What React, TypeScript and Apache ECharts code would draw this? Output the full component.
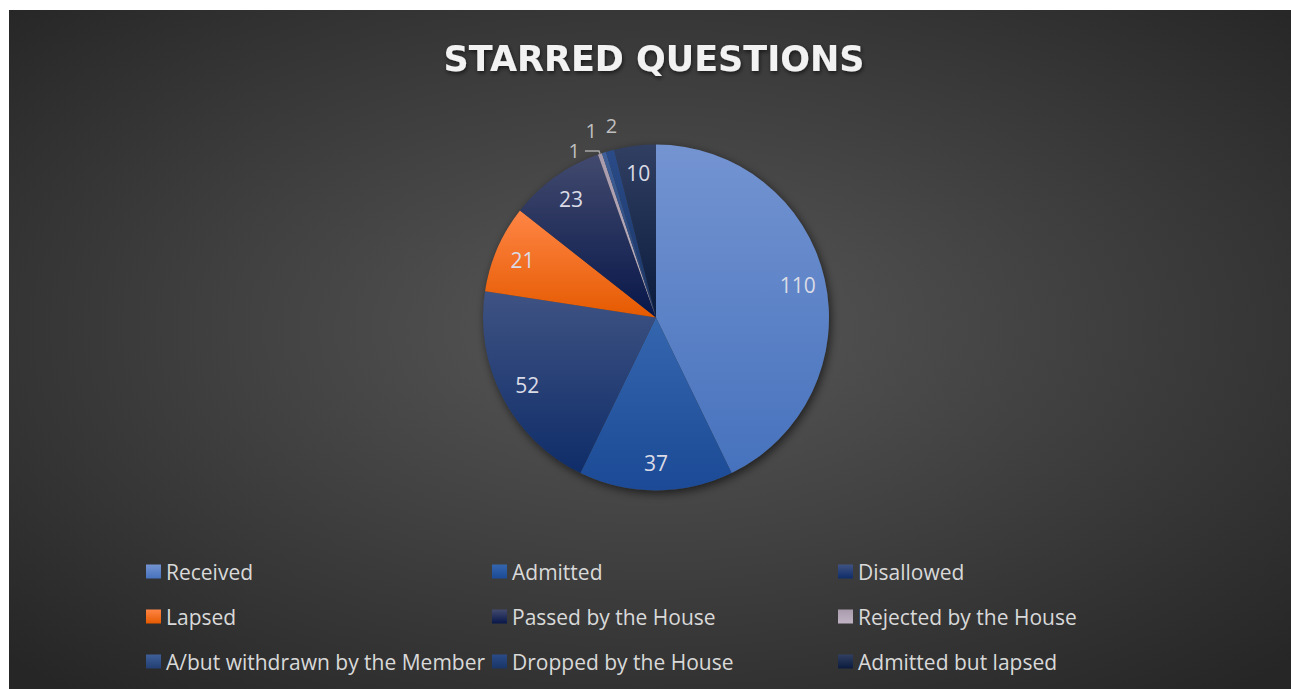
import React, { useEffect, useRef } from "react";
import * as echarts from "echarts";

const titleText = "STARRED QUESTIONS";
const categories = [
  "Received",
  "Admitted",
  "Disallowed",
  "Lapsed",
  "Passed by the House",
  "Rejected by the House",
  "A/but withdrawn by the Member",
  "Dropped by the House",
  "Admitted but lapsed",
];
const values = [110, 37, 52, 21, 23, 1, 1, 2, 10];
const topColors = ["#7494d1", "#3466ae", "#3f5383", "#ff8545", "#424a6e", "#a99bab", "#3e5f99", "#2a4b88", "#303f62"];
const bottomColors = ["#4672bd", "#1c4a96", "#0f2d69", "#e55a00", "#08174a", "#c0b4c4", "#233f72", "#1a3567", "#0a1b3e"];
const legendColumns = [
  [0, 3, 6],
  [1, 4, 7],
  [2, 5, 8],
];
// per small-slice outside label settings: [lineLength, lineLength2, showLine, distance]
const smallLabelCfg: Record<number, [number, number, boolean, number]> = {
  5: [3, 14, true, 5],
  6: [23, 0, false, 0],
  7: [26, 0, false, 0],
};

const FONT = "'Open Sans', sans-serif";

export default function App() {
  const ref = useRef<HTMLDivElement>(null);
  useEffect(() => {
    if (!ref.current) return;
    const chart = echarts.init(ref.current, null, { renderer: "svg" });
    const grad = (i: number) =>
      new echarts.graphic.LinearGradient(0, 0, 0, 1, [
        { offset: 0, color: topColors[i] },
        { offset: 1, color: bottomColors[i] },
      ]);
    const center = [647, 307.5];
    const R = 173;
    const mainData = categories.map((name, i) => {
      const cfg = smallLabelCfg[i];
      return {
        name,
        value: values[i],
        itemStyle: { color: grad(i) },
        label: cfg
          ? {
              show: true,
              position: "outside",
              formatter: "{c}",
              color: "#bfbfbf",
              fontSize: 20,
              fontFamily: FONT,
              distanceToLabelLine: cfg[3],
            }
          : { show: false },
        labelLine: cfg
          ? { show: cfg[2], length: cfg[0], length2: cfg[1], lineStyle: { color: "#a6a6a6", width: 1.5 } }
          : { show: false },
      };
    });
    const overlayData = categories.map((name, i) => ({
      name,
      value: values[i],
      label: { show: !smallLabelCfg[i] },
    }));
    const legends = legendColumns.map((col, c) => ({
      orient: "vertical",
      left: 137 + c * 346,
      top: 551,
      padding: 0,
      itemGap: 24,
      itemWidth: 15,
      itemHeight: 14,
      icon: "rect",
      selectedMode: false,
      data: col.map((i) => categories[i]),
      textStyle: { color: "#d9d9d9", fontSize: 21, fontFamily: FONT, lineHeight: 21 },
    }));
    chart.setOption({
      animation: false,
      backgroundColor: new echarts.graphic.RadialGradient(0.5, 0.47, 0.7, [
        { offset: 0, color: "#585858" },
        { offset: 1, color: "#262626" },
      ]),
      title: {
        text: titleText,
        left: 645,
        top: 31,
        padding: 0,
        textAlign: "center",
        textStyle: {
          color: "#f2f2f2",
          fontSize: 35,
          fontWeight: "bold",
          fontFamily: "'DejaVu Sans', sans-serif",
          textShadowColor: "rgba(0,0,0,0.6)",
          textShadowBlur: 4,
          textShadowOffsetY: 2,
          textShadowOffsetX: 1,
        },
      },
      legend: legends,
      series: [
        {
          type: "pie",
          name: "shadow",
          silent: true,
          center,
          radius: [0, R],
          z: 1,
          label: { show: false },
          labelLine: { show: false },
          itemStyle: {
            color: "#3a3a3a",
            shadowBlur: 10,
            shadowColor: "rgba(0,0,0,0.6)",
            shadowOffsetX: 2,
            shadowOffsetY: 3,
          },
          data: [{ name: "__bg", value: 1 }],
        },
        {
          type: "pie",
          name: "Starred Questions",
          center,
          radius: [0, R],
          startAngle: 90,
          clockwise: true,
          avoidLabelOverlap: false,
          z: 2,
          itemStyle: { borderWidth: 0 },
          labelLayout: (p: any) => (p.dataIndex === 7 ? { dx: 14 } : {}),
          data: mainData,
        },
        {
          type: "pie",
          name: "labels",
          silent: true,
          center,
          radius: [112, R],
          startAngle: 90,
          clockwise: true,
          avoidLabelOverlap: false,
          z: 3,
          itemStyle: { color: "rgba(0,0,0,0)" },
          label: {
            position: "inside",
            formatter: "{c}",
            color: "#dadbe6",
            fontSize: 21,
            fontFamily: FONT,
          },
          labelLine: { show: false },
          data: overlayData,
        },
      ],
    });
    return () => chart.dispose();
  }, []);
  return (
    <div
      ref={ref}
      style={{ position: "absolute", left: 9, top: 10, width: 1282, height: 679 }}
    />
  );
}
